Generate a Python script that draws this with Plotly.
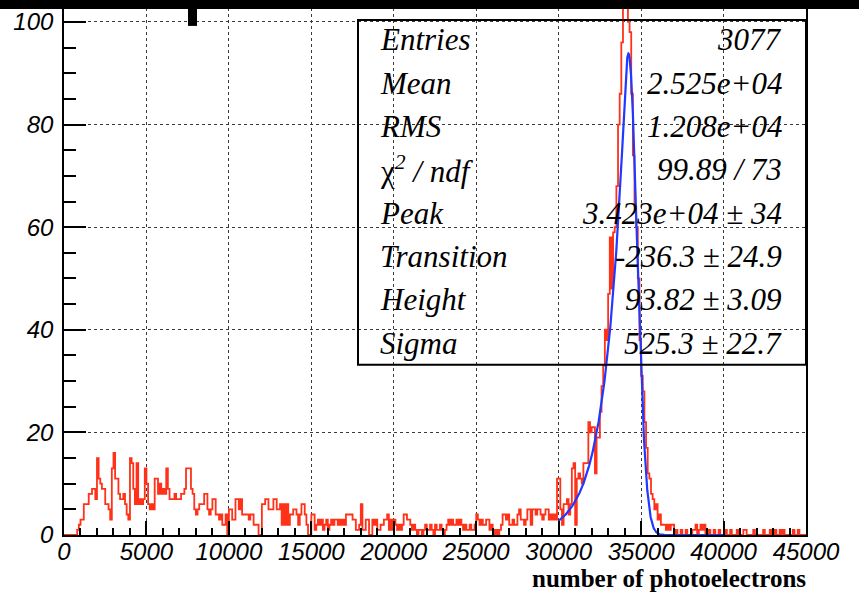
import numpy as np
import plotly.graph_objects as go

# ---- histogram: counts per 100-photoelectron bin, 0 .. 45000 ----
bin_width = 100
x_min, x_max = 0, 45000

counts_0_49 = [0, 0, 0, 0, 0, 0, 0, 0, 1, 2,
               3, 3, 6, 6, 6, 8, 8, 9, 9, 7,
               15, 11, 10, 9, 9, 6, 6, 5, 3, 13,
               16, 11, 11, 8, 7, 7, 8, 6, 4, 3,
               15, 14, 9, 6, 14, 6, 7, 6, 7, 13]
counts_50_99 = [10, 6, 5, 6, 5, 11, 11, 8, 10, 8,
                9, 8, 13, 9, 7, 7, 7, 8, 7, 7,
                7, 8, 8, 9, 13, 13, 13, 9, 8, 5,
                4, 5, 6, 6, 6, 8, 8, 5, 4, 5,
                7, 7, 4, 4, 3, 4, 2, 2, 4, 0]
counts_100_149 = [5, 5, 3, 3, 7, 7, 5, 7, 4, 4,
                  4, 4, 3, 4, 4, 2, 2, 2, 0, 0,
                  6, 6, 7, 7, 5, 5, 5, 7, 7, 5,
                  5, 6, 2, 6, 2, 6, 2, 4, 4, 5,
                  5, 4, 2, 4, 6, 6, 4, 2, 0, 0]
counts_150_199 = [4, 4, 1, 2, 3, 2, 3, 1, 2, 3,
                  1, 2, 3, 2, 3, 3, 2, 3, 2, 3,
                  2, 4, 4, 4, 4, 3, 3, 1, 1, 2,
                  6, 1, 1, 3, 3, 0, 0, 3, 2, 3,
                  1, 1, 2, 2, 3, 3, 4, 1, 3, 1]
counts_200_249 = [3, 2, 1, 2, 1, 2, 4, 4, 3, 3,
                  2, 1, 2, 1, 0, 1, 1, 0, 1, 2,
                  1, 1, 2, 1, 0, 2, 1, 1, 2, 1,
                  0, 1, 2, 3, 2, 3, 2, 2, 3, 2,
                  3, 2, 1, 2, 1, 1, 2, 1, 1, 2]
counts_250_299 = [4, 3, 2, 3, 2, 2, 3, 3, 1, 2,
                  1, 0, 1, 0, 1, 2, 4, 4, 3, 4,
                  2, 2, 3, 2, 2, 4, 5, 3, 3, 2,
                  3, 5, 5, 2, 5, 5, 4, 5, 5, 4,
                  3, 4, 5, 5, 3, 4, 3, 4, 3, 11]
counts_300_349 = [11, 5, 2, 6, 6, 7, 4, 6, 13, 14,
                  2, 11, 12, 11, 10, 14, 14, 14, 22, 20,
                  21, 21, 12, 19, 19, 24, 29, 33, 40, 38,
                  47, 58, 48, 59, 60, 68, 80, 86, 96, 108,
                  112, 104, 100, 98, 86, 74, 64, 60, 50, 38]
counts_350_399 = [31, 28, 22, 17, 12, 11, 8, 7, 5, 6,
                  3, 4, 2, 2, 2, 1, 2, 1, 2, 2,
                  0, 1, 0, 0, 1, 0, 0, 1, 0, 0,
                  0, 1, 1, 2, 0, 1, 2, 1, 2, 0,
                  0, 1, 0, 0, 1, 0, 0, 1, 0, 0]
counts_400_449 = [0, 1, 0, 0, 1, 0, 0, 0, 1, 0,
                  0, 0, 1, 1, 0, 0, 0, 0, 1, 0,
                  0, 0, 0, 0, 1, 0, 0, 0, 1, 0,
                  0, 1, 0, 0, 1, 0, 1, 0, 0, 0,
                  0, 0, 1, 0, 0, 1, 0, 0, 0, 0]

counts = (counts_0_49 + counts_50_99 + counts_100_149 + counts_150_199
          + counts_200_249 + counts_250_299 + counts_300_349
          + counts_350_399 + counts_400_449)

# ---- fit result (Gaussian core with exponential low-side tail) ----
fit_peak = 34230.0
fit_transition = -236.3
fit_height = 93.82
fit_sigma = 525.3
fit_range = (30000, 40000)

stat_labels = ["Entries", "Mean", "RMS",
               "<span style='font-style:normal'>χ</span><sup>2</sup> / ndf",
               "Peak", "Transition", "Height", "Sigma"]
stat_values = ["3077", "2.525e+04", "1.208e+04", "99.89 / 73",
               "3.423e+04 ± 34", "-236.3 ± 24.9", "93.82 ± 3.09",
               "525.3 ± 22.7"]

x_ticks = list(range(0, 45001, 5000))
y_ticks = [0, 20, 40, 60, 80, 100]


def gauss_exp(x):
    t = (x - fit_peak) / fit_sigma
    k = -fit_transition / fit_sigma
    core = fit_height * np.exp(-0.5 * t ** 2)
    tail = fit_height * np.exp(0.5 * k ** 2 + k * t)
    return np.where(t > -k, core, tail)


edges = np.arange(x_min, x_max + bin_width, bin_width)
step_y = counts + [counts[-1]]

xf = np.linspace(fit_range[0], fit_range[1], 2001)
yf = gauss_exp(xf)

# ---- geometry (pixels) ----
W, H = 859, 593
ml, mr, mt, mb = 64, 53, 0, 58
pw, ph = W - ml - mr, H - mt - mb
y_top = ph / 5.15  # 5.15 px per count


def px_x(p):
    return (p - ml) / pw


def px_y(p):
    return (ph - p) / ph


fig = go.Figure()
fig.add_trace(go.Scatter(
    x=edges, y=step_y, mode="lines", line_shape="hv",
    line=dict(color="#ff3219", width=1.8), hoverinfo="skip"))
fig.add_trace(go.Scatter(
    x=xf, y=yf, mode="lines",
    line=dict(color="#2038ff", width=2.2), hoverinfo="skip"))

tick_font = dict(family="Liberation Sans", size=24, color="black", style="italic")
grid_kw = dict(showgrid=True, gridcolor="#3a3a3a", gridwidth=1.2, griddash="dot")

fig.update_xaxes(
    range=[x_min, x_max], tickmode="array", tickvals=x_ticks,
    ticktext=[str(v) for v in x_ticks],
    ticks="inside", ticklen=14, tickwidth=1.6, tickcolor="black",
    showline=True, linecolor="black", linewidth=1.6, mirror=True,
    tickfont=tick_font, zeroline=False, ticklabelstandoff=-6,
    minor=dict(tickmode="linear", tick0=0, dtick=1000, ticks="inside",
               ticklen=7, tickwidth=1.6, tickcolor="black", showgrid=False),
    **grid_kw)
fig.update_yaxes(
    range=[0, y_top], tickmode="array", tickvals=y_ticks,
    ticktext=[str(v) for v in y_ticks],
    ticks="inside", ticklen=22, tickwidth=1.6, tickcolor="black",
    showline=True, linecolor="black", linewidth=1.6, mirror=True,
    tickfont=tick_font, zeroline=False, ticklabelstandoff=4,
    minor=dict(tickmode="linear", tick0=0, dtick=5, ticks="inside",
               ticklen=12, tickwidth=1.6, tickcolor="black", showgrid=False),
    **grid_kw)

shapes = [
    # statistics box frame
    dict(type="rect", xref="paper", yref="paper",
         x0=px_x(358), x1=px_x(806), y0=px_y(364), y1=px_y(18),
         line=dict(color="black", width=2), fillcolor="rgba(0,0,0,0)",
         layer="above"),
    # thick canvas border along the top
    dict(type="rect", xref="paper", yref="paper",
         x0=px_x(-2), x1=px_x(W + 2), y0=px_y(7), y1=px_y(-2),
         line=dict(width=0), fillcolor="black", layer="above"),
    dict(type="rect", xref="paper", yref="paper",
         x0=px_x(188), x1=px_x(197), y0=px_y(24), y1=px_y(-2),
         line=dict(width=0), fillcolor="black", layer="above"),
]

annotations = []
row_y = [38 + 43.5 * i for i in range(len(stat_labels))]
stat_font = dict(family="Liberation Serif", size=31, color="black", style="italic")
for lab, val, yy in zip(stat_labels, stat_values, row_y):
    annotations.append(dict(
        text=lab, xref="paper", yref="paper", x=px_x(378), y=px_y(yy),
        xanchor="left", yanchor="middle", showarrow=False, font=stat_font))
    annotations.append(dict(
        text=val, xref="paper", yref="paper", x=px_x(784), y=px_y(yy),
        xanchor="right", yanchor="middle", showarrow=False, font=stat_font))

annotations.append(dict(
    text="<b>number of photoelectrons</b>", xref="paper", yref="paper",
    x=px_x(808), y=px_y(579), xanchor="right", yanchor="middle",
    showarrow=False,
    font=dict(family="Liberation Serif", size=25, color="black")))

fig.update_layout(
    width=W, height=H,
    margin=dict(l=ml, r=mr, t=mt, b=mb, pad=0),
    paper_bgcolor="white", plot_bgcolor="white",
    showlegend=False, shapes=shapes, annotations=annotations,
)

fig.write_html("out.html")
